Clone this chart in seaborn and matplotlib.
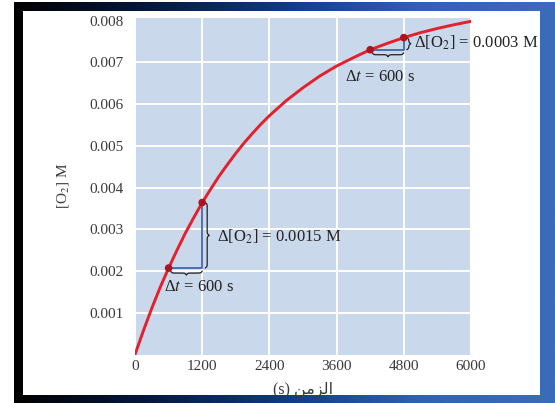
import numpy as np
import pandas as pd
import matplotlib
matplotlib.use("Agg")
import matplotlib.pyplot as plt
import seaborn as sns

# ── Data ──────────────────────────────────────────────────────────────────────
time_s = [0, 150, 300, 450, 600, 750, 900, 1050, 1200, 1350, 1500, 1650,
          1800, 1950, 2100, 2250, 2400, 2700, 3000, 3300, 3600, 3900,
          4200, 4500, 4800, 5100, 5400, 5700, 6000]
o2_M = [0.0, 0.00057, 0.00111, 0.00161, 0.00207, 0.00250, 0.00291, 0.00328,
        0.00364, 0.00396, 0.00427, 0.00455, 0.00482, 0.00507, 0.00530,
        0.00552, 0.00572, 0.00608, 0.00639, 0.00667, 0.00691, 0.00711,
        0.00730, 0.00745, 0.00759, 0.00771, 0.00781, 0.00790, 0.00798]

marked_t = [600, 1200, 4200, 4800]
marked_o2 = [0.00207, 0.00364, 0.00730, 0.00759]

x_ticks = [0, 1200, 2400, 3600, 4800, 6000]
y_ticks = [0.001, 0.002, 0.003, 0.004, 0.005, 0.006, 0.007, 0.008]

# intervals: (t0, t1, delta label, dt label pos, dO2 label pos)
intervals = [
    (600, 1200, "Δ[O$_2$] = 0.0015 M", (520, 0.00161), (1470, 0.00282)),
    (4200, 4800, "Δ[O$_2$] = 0.0003 M", (3750, 0.00665), (4980, 0.00747)),
]

# ── Style ─────────────────────────────────────────────────────────────────────
sns.set_theme(style="darkgrid", rc={
    "axes.facecolor": "#c9d8eb",
    "grid.color": "white",
    "grid.linewidth": 1.4,
})
plt.rcParams["font.family"] = ["Liberation Serif", "DejaVu Sans"]
plt.rcParams["mathtext.fontset"] = "stix"

W, H = 555, 403
fig = plt.figure(figsize=(W / 100, H / 100), dpi=100)
fig.patch.set_facecolor("white")

# blue gradient frame
frame = fig.add_axes([14 / W, 0, 1 - 14 / W, 1 - 2 / H])
grad = np.linspace(0, 1, 256).reshape(1, -1)
cmap = matplotlib.colors.LinearSegmentedColormap.from_list(
    "frame", ["#000000", "#06183f", "#0f3a85", "#2f62b3", "#3b6cba"])
frame.imshow(grad, aspect="auto", cmap=cmap, extent=[0, 1, 0, 1])
frame.set_axis_off()

inner = fig.add_axes([23 / W, 8 / H, 517 / W, 384 / H])
inner.set_facecolor("white")
inner.set_xticks([])
inner.set_yticks([])
for s in inner.spines.values():
    s.set_visible(False)

ax = fig.add_axes([135 / W, (H - 354.5) / H, 336 / W, 336.5 / H])

df = pd.DataFrame({"t": time_s, "o2": o2_M})
sns.lineplot(data=df, x="t", y="o2", ax=ax, color="#e3202b", linewidth=2.1,
             zorder=4)
ax.lines[-1].set_solid_joinstyle("round")

for t0, t1, _, _, _ in intervals:
    y0 = marked_o2[marked_t.index(t0)]
    y1 = marked_o2[marked_t.index(t1)]
    ax.plot([t0, t1, t1], [y0, y0, y1], color="#4565b0", linewidth=1.3,
            zorder=3)

sns.scatterplot(x=marked_t, y=marked_o2, ax=ax, color="#b0121f", s=30,
                edgecolor="none", zorder=5)

ax.set_xlim(0, 6000)
ax.set_ylim(0, 0.00806)
ax.set_xticks(x_ticks)
ax.set_yticks(y_ticks)
ax.set_xticklabels([str(v) for v in x_ticks])
ax.set_yticklabels([f"{v:.3f}" for v in y_ticks])
ax.tick_params(axis="both", length=0, labelsize=11, labelcolor="#3a3a3a")
ax.tick_params(axis="y", pad=8.5)
ax.tick_params(axis="x", pad=4)
ax.yaxis.get_gridlines()[-1].set_visible(False)
ax.set_xlabel("(s) ﻦﻣﺰﻟﺍ", fontsize=11.5, color="#3a3a3a", labelpad=6)
ax.set_ylabel("[O$_2$] M", fontsize=11, color="#3a3a3a", labelpad=13)
for s in ax.spines.values():
    s.set_visible(False)


def brace(ax, p0, p1, depth, normal):
    """Curly brace between two data points, drawn in pixel space."""
    a = ax.transData.transform(p0)
    b = ax.transData.transform(p1)
    L = np.hypot(*(b - a))
    u = (b - a) / L
    n = np.array(normal, dtype=float)
    half = np.linspace(0, L / 2, 60)
    beta = 1.4
    yh = (1 / (1 + np.exp(-beta * (half - half[0])))
          + 1 / (1 + np.exp(-beta * (half - half[-1])))) - 0.5
    s = np.concatenate([half, L - half[-2::-1]])
    off = np.concatenate([yh, yh[-2::-1]]) * depth
    pts = a[None, :] + s[:, None] * u[None, :] + off[:, None] * n[None, :]
    data = ax.transData.inverted().transform(pts)
    ax.plot(data[:, 0], data[:, 1], color="#222222", linewidth=0.9,
            clip_on=False, zorder=3)


for t0, t1, dlabel, dt_pos, do_pos in intervals:
    y0 = marked_o2[marked_t.index(t0)]
    y1 = marked_o2[marked_t.index(t1)]
    # horizontal brace below the time step
    a = ax.transData.transform((t0, y0))
    b = ax.transData.transform((t1, y0))
    pa = ax.transData.inverted().transform(a + [2, -3])
    pb = ax.transData.inverted().transform(b + [0, -3])
    brace(ax, pa, pb, 4, (0, -1))
    # vertical brace right of the concentration step
    c = ax.transData.transform((t1, y0))
    d = ax.transData.transform((t1, y1))
    pc = ax.transData.inverted().transform(c + [3, 0])
    pd_ = ax.transData.inverted().transform(d + [3, 0])
    brace(ax, pc, pd_, 4, (1, 0))
    ax.text(*dt_pos, "Δ$t$ = 600 s", fontsize=12, color="#222222",
            ha="left", va="center")
    ax.text(*do_pos, dlabel, fontsize=12, color="#222222",
            ha="left", va="center")

fig.savefig("out.png", dpi=100)
